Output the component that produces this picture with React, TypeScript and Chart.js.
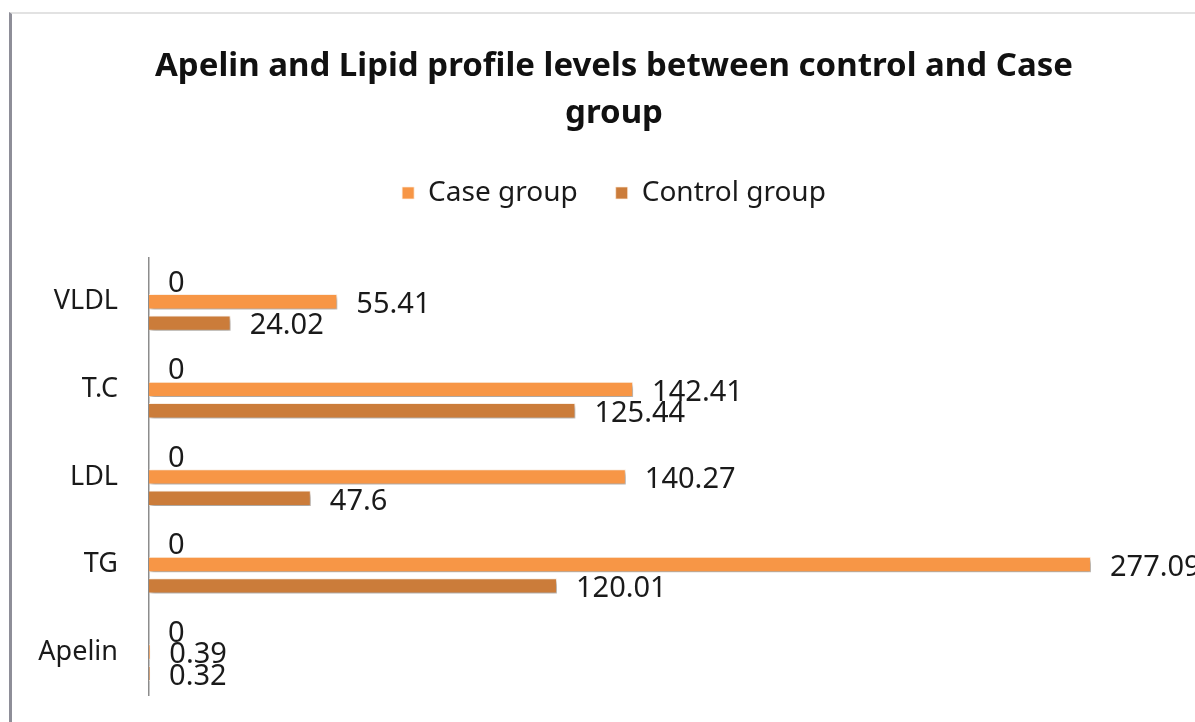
import React, { useEffect, useRef } from "react";
import { Chart, registerables } from "chart.js";

Chart.register(...registerables);

const categories = ["VLDL", "T.C", "LDL", "TG", "Apelin"];
const zeroSeries = [0, 0, 0, 0, 0];
const caseGroup = [55.41, 142.41, 140.27, 277.09, 0.39];
const controlGroup = [24.02, 125.44, 47.6, 120.01, 0.32];
const titleLines = ["Apelin and Lipid profile levels between control and Case", "group"];

const FONT = "'Noto Sans', sans-serif";

const shadowAndLabels = {
  id: "shadowAndLabels",
  beforeDatasetsDraw(chart: any) {
    const ctx = chart.ctx;
    ctx.save();
    ctx.shadowColor = "rgba(0,0,0,0.35)";
    ctx.shadowBlur = 4;
    ctx.shadowOffsetX = 2;
    ctx.shadowOffsetY = 3;
  },
  afterDatasetsDraw(chart: any) {
    const ctx = chart.ctx;
    ctx.restore();
    ctx.save();
    ctx.font = `29px ${FONT}`;
    ctx.fillStyle = "#1a1a1a";
    ctx.textAlign = "left";
    ctx.textBaseline = "middle";
    chart.data.datasets.forEach((ds: any, di: number) => {
      const meta = chart.getDatasetMeta(di);
      meta.data.forEach((el: any, i: number) => {
        const v = ds.data[i];
        ctx.fillText(String(v), el.x + 19, el.y + 3);
      });
    });
    ctx.restore();
  },
};

export default function App() {
  const ref = useRef<HTMLCanvasElement>(null);
  useEffect(() => {
    if (!ref.current) return;
    const chart = new Chart(ref.current, {
      type: "bar",
      data: {
        labels: categories,
        datasets: [
          { label: "", data: zeroSeries, backgroundColor: "#a0a0a0" },
          { label: "Case group", data: caseGroup, backgroundColor: "#F79646", borderColor: "rgba(255,240,225,0.7)", borderWidth: 1 },
          { label: "Control group", data: controlGroup, backgroundColor: "#CB7C3A", borderColor: "rgba(255,240,225,0.7)", borderWidth: 1 },
        ],
      },
      options: {
        indexAxis: "y",
        animation: false,
        responsive: false,
        maintainAspectRatio: false,
        categoryPercentage: 0.733,
        barPercentage: 0.72,
        layout: { padding: { left: 0, right: 0, top: 0, bottom: 3 } },
        scales: {
          x: {
            position: "top",
            display: true,
            min: 0,
            max: 317.4,
            grid: { display: false, drawTicks: false },
            border: { display: false },
            ticks: { display: false },
            afterFit(scale: any) {
              scale.height = 41;
            },
          },
          y: {
            grid: { display: false, drawTicks: false },
            border: { display: true, color: "#8c8c8c", width: 1.5 },
            ticks: { color: "#1a1a1a", padding: 31, font: { family: FONT, size: 27 } },
            afterFit(scale: any) {
              scale.width = 149;
            },
          },
        },
        plugins: {
          title: {
            display: true,
            text: titleLines,
            color: "#111",
            font: { family: FONT, size: 33, weight: "bold", lineHeight: 1.424 },
            padding: { top: 43, bottom: 4 },
          },
          legend: {
            display: true,
            labels: {
              filter: (item: any) => item.text !== "",
              color: "#1a1a1a",
              font: { family: FONT, size: 28 },
              boxWidth: 12,
              boxHeight: 12,
              padding: 38,
            },
          },
          tooltip: { enabled: false },
        },
      },
      plugins: [shadowAndLabels],
    });
    return () => chart.destroy();
  }, []);
  return (
    <div style={{ position: "fixed", left: 0, top: 0, width: 1195, height: 722, overflow: "hidden", background: "#fff" }}>
      <div style={{ position: "absolute", left: 9, top: 12, right: 0, bottom: 0, borderTop: "2px solid #e2e2e2", borderLeft: "3px solid #8e8e98" }} />
      <canvas ref={ref} width={1228} height={743} style={{ position: "absolute", left: 0, top: 0, width: 1228, height: 743 }} />
    </div>
  );
}
